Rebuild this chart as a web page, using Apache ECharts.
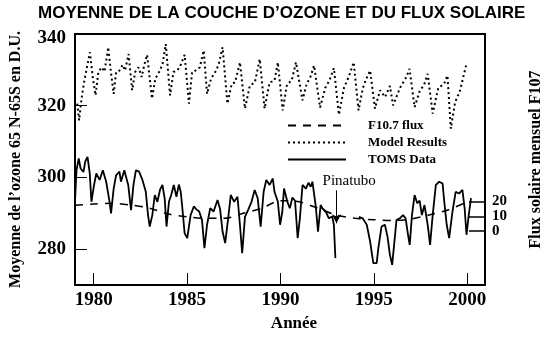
<!DOCTYPE html>
<html>
<head>
<meta charset="utf-8">
<script src="https://cdn.jsdelivr.net/npm/echarts@6/dist/echarts.min.js"></script>
<style>html,body{margin:0;padding:0;background:#fff;}#c{width:552px;height:337px;}</style>
</head>
<body>
<div id="c"></div>
<script>
// ---- DATA ----
const titleText = "MOYENNE DE LA COUCHE D\u2019OZONE ET DU FLUX SOLAIRE";
const xTickYears = [1980, 1985, 1990, 1995, 2000];
const leftTicks = [280, 300, 320, 340];
const rightTicks = [0, 10, 20];
const seriesNames = ['F10.7 flux', 'Model Results', 'TOMS Data'];

const tomsYears = [1979.00,1979.08,1979.20,1979.30,1979.37,1979.45,1979.55,1979.67,1979.79,1979.88,
  1980.02,1980.14,1980.32,1980.49,1980.67,1980.85,1980.93,1981.07,1981.20,1981.38,1981.46,1981.64,1981.73,1981.85,
  1982.00,1982.13,1982.26,1982.43,1982.61,1982.79,1982.91,1983.00,1983.14,1983.27,1983.41,1983.55,1983.68,1983.80,1983.90,
  1984.03,1984.15,1984.29,1984.43,1984.56,1984.66,1984.74,1984.87,1985.01,1985.19,1985.36,1985.50,1985.65,1985.80,1985.93,
  1986.07,1986.24,1986.42,1986.63,1986.77,1986.90,1987.04,1987.22,1987.34,1987.52,1987.70,1987.83,1987.95,
  1988.10,1988.28,1988.45,1988.62,1988.78,1988.94,1989.10,1989.24,1989.42,1989.59,1989.68,1989.86,1989.98,
  1990.10,1990.19,1990.37,1990.50,1990.64,1990.78,1990.92,1991.04,1991.18,1991.36,1991.50,1991.62,1991.71,1991.89,
  1992.01,1992.15,1992.24,1992.42,1992.59,1992.77,1992.86,1992.94,1993.50,
  1994.20,1994.40,1994.62,1994.80,1994.97,1995.15,1995.24,1995.41,1995.59,1995.73,1995.86,1995.98,
  1996.12,1996.21,1996.39,1996.56,1996.70,1996.83,1996.92,1997.04,1997.18,1997.32,1997.45,1997.57,1997.71,1997.89,
  1998.01,1998.15,1998.32,1998.50,1998.68,1998.77,1998.90,1999.03,1999.21,1999.38,1999.56,1999.74,1999.86,1999.96,
  2000.08,2000.20];
const tomsValues = [293.2,302.0,305.3,302.5,303.0,301.5,304.5,305.7,301.1,293.2,
  297.9,301.1,299.3,302.0,298.8,293.2,290.0,296.9,300.6,301.6,298.8,302.0,302.5,297.9,
  290.9,297.9,302.0,301.6,299.3,296.0,289.5,286.3,289.5,295.1,293.2,296.5,297.9,294.2,286.3,
  293.2,295.1,297.9,294.6,298.0,296.0,291.9,284.4,283.1,289.5,291.9,291.1,290.5,288.1,280.3,
  286.8,291.4,290.5,293.7,291.1,284.9,281.7,289.5,295.1,293.2,294.6,286.8,278.9,
  289.0,291.1,293.2,296.5,294.2,286.3,296.0,299.3,297.9,299.7,296.0,293.2,286.8,
  290.5,296.9,293.2,291.4,294.4,293.5,283.1,288.6,297.9,296.9,298.5,297.4,298.8,291.9,
  284.9,292.3,291.4,290.5,288.6,289.1,286.8,277.5,null,
  289.0,288.6,286.8,282.1,276.1,276.1,280.3,286.3,286.8,283.5,278.4,275.6,
  283.1,288.1,288.6,289.5,288.6,284.0,281.2,289.5,295.1,292.8,293.5,289.5,292.3,286.5,
  281.2,289.5,297.9,298.8,298.3,293.2,286.8,283.1,290.5,296.0,295.5,296.5,291.4,284.0,
  289.5,294.2];

const modelYears = [1979.12,1979.22,1979.35,1979.50,1979.65,1979.80,1979.95,
  1980.10,1980.25,1980.43,1980.58,1980.78,1980.93,1981.07,1981.20,1981.38,1981.55,1981.68,1981.87,
  1982.06,1982.22,1982.40,1982.57,1982.71,1982.86,1983.12,1983.30,1983.50,1983.68,1983.86,
  1984.09,1984.27,1984.48,1984.66,1984.87,1985.10,1985.27,1985.45,1985.68,1985.89,
  1986.07,1986.28,1986.51,1986.69,1986.90,1987.16,1987.39,1987.57,1987.83,
  1988.10,1988.36,1988.63,1988.89,1989.15,1989.42,1989.68,1989.86,
  1990.12,1990.35,1990.60,1990.83,1991.18,1991.40,1991.60,1991.80,
  1992.12,1992.40,1992.62,1992.86,1993.13,1993.40,1993.65,1993.92,
  1994.18,1994.40,1994.55,1994.80,1995.06,1995.33,1995.60,1995.86,
  1996.03,1996.40,1996.74,1996.91,1997.18,1997.45,1997.70,1997.88,
  1998.15,1998.45,1998.75,1998.94,1999.12,1999.35,1999.60,1999.96];
const modelValues = [320.6,315.9,322.0,327.0,331.0,334.9,328.0,
  322.9,329.4,330.7,329.5,336.3,329.0,323.3,329.4,329.8,331.4,329.8,334.4,
  324.3,329.4,330.7,328.0,331.4,334.2,322.0,327.5,329.4,331.4,337.2,
  322.9,329.4,329.8,331.4,334.2,320.6,329.4,329.8,330.7,335.4,
  323.3,327.5,329.4,331.4,336.3,320.6,326.1,326.5,332.1,
  319.2,325.6,326.5,333.0,319.2,326.5,327.0,332.1,
  318.7,326.0,327.0,332.1,321.5,326.0,328.0,331.2,
  319.5,325.0,327.0,330.5,317.5,325.0,328.0,332.1,
  318.7,324.7,327.0,329.8,319.2,324.3,322.4,325.5,
  320.1,325.0,328.0,330.3,319.6,324.0,326.0,328.9,
  317.8,325.0,326.0,328.4,313.6,321.0,324.0,331.7];

// F10.7 flux, in right-axis units
const fluxYears = [1979,1980,1981,1982,1983,1984,1985,1986,1987,1988,1989,1990,1991,1992,1993,1994,1995,1996,1997,1998,1999,2000];
const fluxValues = [17.3,18.2,18.7,17.5,15.4,11.5,9.6,8.6,8.6,12.0,15.4,20.4,19.7,15.4,10.8,8.6,7.7,7.2,8.2,11.0,14.4,19.7];

const pinatuboLabel = 'Pinatubo';
const pinatuboArrow = [[1993.0, 296.4], [1993.0, 287.2]];
const pinatuboText = [1993.68, 298.9];

// ---- CHART ----
const zip = (a, b) => a.map((x, i) => [x, b[i] === null ? '-' : b[i]]);
const serif = "'Liberation Serif', 'Times New Roman', serif";
const chart = echarts.init(document.getElementById('c'), null, {renderer: 'canvas'});
chart.setOption({
  animation: false,
  backgroundColor: '#fff',
  title: {
    text: titleText, left: 33, top: 0,
    textStyle: {fontFamily: "'Liberation Sans', Arial, sans-serif", fontWeight: 'bold', fontSize: 17, color: '#000'}
  },
  grid: {left: 73, right: 62, top: 34, bottom: 50, show: true, borderColor: '#000', borderWidth: 2, containLabel: false},
  legend: {
    orient: 'vertical', left: 282, top: 114, itemWidth: 58, itemHeight: 14, itemGap: 4,
    data: seriesNames,
    itemStyle: {opacity: 0},
    textStyle: {fontFamily: serif, fontWeight: 'bold', fontSize: 13, color: '#000', padding: [0, 0, 0, 17]}
  },
  xAxis: {
    type: 'value', min: 1979, max: 2000.95,
    name: 'Année', nameLocation: 'middle', nameGap: 30,
    nameTextStyle: {fontFamily: serif, fontWeight: 'bold', fontSize: 17, color: '#000', padding: [0, 0, 0, 28]},
    axisLine: {show: true, onZero: false, lineStyle: {color: '#000', width: 2}},
    axisTick: {show: true, inside: true, length: 12, customValues: xTickYears, lineStyle: {color: '#000', width: 1}},
    axisLabel: {customValues: xTickYears, margin: 6, fontFamily: serif, fontWeight: 'bold', fontSize: 19, color: '#000', formatter: v => String(v)},
    splitLine: {show: false}
  },
  yAxis: [{
    type: 'value', min: 270, max: 340, position: 'left',
    name: "Moyenne de l\u2019ozone 65 N-65S en D.U.", nameLocation: 'middle', nameGap: 51, nameRotate: 90,
    nameTextStyle: {fontFamily: serif, fontWeight: 'bold', fontSize: 16, color: '#000'},
    axisLine: {show: true, onZero: false, lineStyle: {color: '#000', width: 2}},
    axisTick: {show: true, inside: true, length: 12, customValues: [280, 300, 320], lineStyle: {color: '#000', width: 1}},
    axisLabel: {
      customValues: leftTicks, margin: 9, fontFamily: serif, fontWeight: 'bold', fontSize: 19, color: '#000',
      formatter: v => v === 340 ? '{t|' + v + '}' : String(v),
      rich: {t: {padding: [9, 0, 0, 0], fontFamily: serif, fontWeight: 'bold', fontSize: 19, color: '#000'}}
    },
    splitLine: {show: false}
  }, {
    type: 'value', min: -36, max: 132, position: 'right',
    name: 'Flux solaire mensuel F107', nameLocation: 'middle', nameGap: 43, nameRotate: 90,
    nameTextStyle: {fontFamily: serif, fontWeight: 'bold', fontSize: 16, color: '#000'},
    axisLine: {show: true, onZero: false, lineStyle: {color: '#000', width: 2}},
    axisTick: {show: true, inside: true, length: 16, customValues: rightTicks, lineStyle: {color: '#000', width: 1.5}},
    axisLabel: {customValues: rightTicks, margin: 7, fontFamily: serif, fontWeight: 'bold', fontSize: 15, color: '#000'},
    splitLine: {show: false}
  }],
  series: [{
    name: seriesNames[0], type: 'line', yAxisIndex: 1, data: zip(fluxYears, fluxValues),
    symbol: 'none', smooth: 0.3, lineStyle: {color: '#000', width: 1.5, type: [8, 7]}, itemStyle: {color: '#000'}, z: 3
  }, {
    name: seriesNames[1], type: 'line', yAxisIndex: 0, data: zip(modelYears, modelValues),
    symbol: 'none', lineStyle: {color: '#000', width: 2, type: [2, 3]}, itemStyle: {color: '#000'}, z: 2
  }, {
    name: seriesNames[2], type: 'line', yAxisIndex: 0, data: zip(tomsYears, tomsValues),
    symbol: 'none', connectNulls: false, lineStyle: {color: '#000', width: 1.8}, itemStyle: {color: '#000'}, z: 4,
    markLine: {
      silent: true, symbol: ['none', 'arrow'], symbolSize: [7, 9], animation: false,
      lineStyle: {color: '#000', width: 1, type: 'solid'}, label: {show: false},
      data: [[{coord: pinatuboArrow[0]}, {coord: pinatuboArrow[1]}]]
    },
    markPoint: {
      silent: true, symbol: 'circle', symbolSize: 1, itemStyle: {color: 'rgba(0,0,0,0)'},
      label: {show: true, position: 'inside', formatter: pinatuboLabel, fontFamily: serif, fontSize: 15, color: '#000'},
      data: [{coord: pinatuboText}]
    }
  }]
});
</script>
</body>
</html>
